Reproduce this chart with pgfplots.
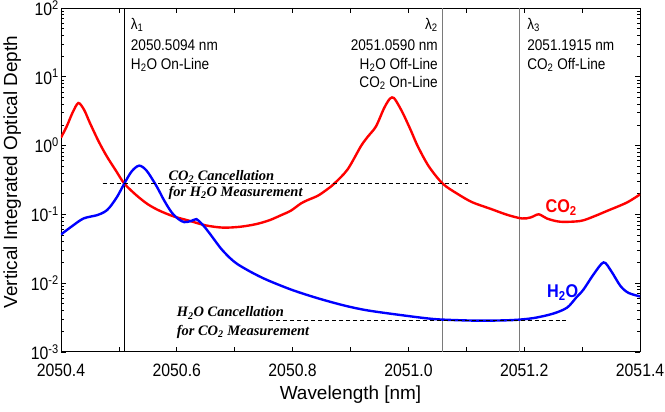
\documentclass[border=0pt]{standalone}
\usepackage{fontspec}
\setmainfont{Liberation Sans}
\newfontfamily\narrow[FakeStretch=0.88]{Liberation Sans}
\newfontfamily\tnr{Liberation Serif}
\usepackage{pgfplots}
\pgfplotsset{compat=1.18}
\definecolor{vgray}{HTML}{7A7A7A}
\begin{document}
\begin{tikzpicture}
\begin{axis}[name=ax, scale only axis, width=581bp, height=345bp,
  ymode=log, xmin=0.4, xmax=1.4, ymin=1e-3, ymax=1e2,
  xtick={0.4,0.5,0.6,0.7,0.8,0.9,1.0,1.1,1.2,1.3,1.4},
  xticklabels={2050.4,,2050.6,,2050.8,,2051.0,,2051.2,,2051.4},
  ytick={1e-3,1e-2,1e-1,1,1e1,1e2},
  yticklabels={10\textsuperscript{-3},10\textsuperscript{-2},10\textsuperscript{-1},10\textsuperscript{0},10\textsuperscript{1},10\textsuperscript{2}},
  minor ytick={2e-3,3e-3,4e-3,5e-3,6e-3,7e-3,8e-3,9e-3,2e-2,3e-2,4e-2,5e-2,6e-2,7e-2,8e-2,9e-2,2e-1,3e-1,4e-1,5e-1,6e-1,7e-1,8e-1,9e-1,2,3,4,5,6,7,8,9,20,30,40,50,60,70,80,90},
  ticklabel style={font=\narrow\fontsize{18bp}{20bp}\selectfont},
  xticklabel style={anchor=base, yshift=-24.5bp, inner sep=0pt},
  yticklabel style={anchor=east, inner xsep=2bp, inner ysep=0pt},
  xlabel={Wavelength [nm]}, ylabel={Vertical Integrated Optical Depth},
  label style={font=\fontsize{19bp}{22bp}\selectfont},
  xlabel style={at={(axis description cs:0.5,0)}, anchor=base, yshift=-48bp},
  ylabel style={at={(axis description cs:-0.0843,0.523)}, anchor=center},
  axis line style={line width=0.9pt},
  tick style={black, line width=0.6pt},
  major tick length=5bp, minor tick length=3bp,
]
\addplot[black, line width=0.9pt] coordinates {(0.5094,1e-3) (0.5094,1e2)};
\addplot[vgray, line width=1.2pt] coordinates {(1.0590,1e-3) (1.0590,1e2)};
\addplot[vgray, line width=1.2pt] coordinates {(1.1915,1e-3) (1.1915,1e2)};

\addplot[red, line width=2.4bp, smooth, tension=0.5] coordinates {
(0.400,1.30)(0.410,1.9)(0.420,3.0)(0.430,4.15)(0.440,3.3)(0.450,2.13)(0.465,1.15)
(0.479,0.70)(0.495,0.43)(0.5094,0.28)(0.530,0.19)(0.550,0.14)(0.570,0.113)(0.595,0.093)
(0.623,0.080)(0.650,0.069)(0.680,0.064)(0.710,0.066)(0.737,0.072)(0.760,0.082)(0.780,0.097)
(0.797,0.113)(0.815,0.145)(0.829,0.165)(0.843,0.185)(0.858,0.225)(0.872,0.28)(0.895,0.45)
(0.918,0.98)(0.930,1.35)(0.944,1.9)(0.958,3.5)(0.968,4.8)(0.975,4.9)(0.985,3.6)(0.993,2.66)
(1.005,1.6)(1.016,0.98)(1.035,0.50)(1.059,0.28)(1.084,0.20)(1.110,0.15)(1.142,0.12)
(1.171,0.098)(1.196,0.087)(1.211,0.09)(1.225,0.1)(1.239,0.087)(1.262,0.078)(1.297,0.08)
(1.320,0.093)(1.343,0.112)(1.377,0.148)(1.400,0.195)};

\addplot[blue, line width=2.4bp, smooth, tension=0.5] coordinates {
(0.400,0.051)(0.420,0.068)(0.439,0.087)(0.462,0.097)(0.475,0.108)(0.484,0.126)(0.497,0.18)
(0.5094,0.28)(0.522,0.42)(0.535,0.51)(0.548,0.43)(0.565,0.257)(0.578,0.16)(0.591,0.107)
(0.603,0.085)(0.613,0.077)(0.625,0.08)(0.634,0.085)(0.643,0.073)(0.651,0.061)(0.662,0.046)
(0.676,0.032)(0.691,0.0235)(0.705,0.0188)(0.730,0.0142)(0.757,0.0110)(0.800,0.0079)(0.844,0.0060)(0.890,0.0047)
(0.930,0.0040)(0.990,0.0034)(1.044,0.0030)(1.090,0.00288)(1.130,0.00284)(1.180,0.0029)
(1.216,0.0031)(1.250,0.0036)(1.274,0.0044)(1.290,0.0062)(1.302,0.0080)(1.320,0.0135)
(1.337,0.020)(1.350,0.015)(1.366,0.0091)(1.380,0.0072)(1.400,0.0064)};

\addplot[black, line width=0.6pt, dash pattern=on 4bp off 3bp] coordinates {(0.472,0.28) (1.102,0.28)};
\addplot[black, line width=0.6pt, dash pattern=on 4bp off 3bp] coordinates {(0.760,0.0029) (1.276,0.0029)};

% lambda labels
\begin{scope}[every node/.style={font=\narrow\fontsize{15.5bp}{18bp}\selectfont, inner sep=0pt}]
\node[anchor=base west, yshift=-21.3bp] at (axis description cs:0.1205,1) {λ\textsubscript{1}};
\node[anchor=base west, yshift=-42.7bp] at (axis description cs:0.1205,1) {2050.5094 nm};
\node[anchor=base west, yshift=-61.3bp] at (axis description cs:0.1205,1) {H\textsubscript{2}O On-Line};
\node[anchor=base east, yshift=-21.3bp] at (axis description cs:0.651,1) {λ\textsubscript{2}};
\node[anchor=base east, yshift=-42.7bp] at (axis description cs:0.651,1) {2051.0590 nm};
\node[anchor=base east, yshift=-61.3bp] at (axis description cs:0.651,1) {H\textsubscript{2}O Off-Line};
\node[anchor=base east, yshift=-79.5bp] at (axis description cs:0.651,1) {CO\textsubscript{2} On-Line};
\node[anchor=base west, yshift=-21.3bp] at (axis description cs:0.805,1) {λ\textsubscript{3}};
\node[anchor=base west, yshift=-42.7bp] at (axis description cs:0.805,1) {2051.1915 nm};
\node[anchor=base west, yshift=-61.3bp] at (axis description cs:0.805,1) {CO\textsubscript{2} Off-Line};
\end{scope}

% annotations
\begin{scope}[every node/.style={font=\tnr\bfseries\itshape\fontsize{14.5bp}{17bp}\selectfont, inner sep=0pt}]
\node[anchor=base west, yshift=-172.7bp] at (axis description cs:0.1854,1) {CO\textsubscript{2} Cancellation};
\node[anchor=base west, yshift=-188.7bp] at (axis description cs:0.1854,1) {for H\textsubscript{2}O Measurement};
\node[anchor=base west, yshift=-309.9bp] at (axis description cs:0.1997,1) {H\textsubscript{2}O Cancellation};
\node[anchor=base west, yshift=-328.5bp] at (axis description cs:0.1997,1) {for CO\textsubscript{2} Measurement};
\end{scope}

\node[anchor=base west, inner sep=0pt, text=red, font=\narrow\bfseries\fontsize{18.5bp}{20bp}\selectfont, yshift=-205.3bp] at (axis description cs:0.8365,1) {CO\textsubscript{2}};
\node[anchor=base west, inner sep=0pt, text=blue, font=\narrow\bfseries\fontsize{18.5bp}{20bp}\selectfont, yshift=-290.3bp] at (axis description cs:0.839,1) {H\textsubscript{2}O};
\end{axis}
\path (ax.south west) ++(-59bp,-60bp) rectangle ++(665bp,413bp);
\end{tikzpicture}
\end{document}
